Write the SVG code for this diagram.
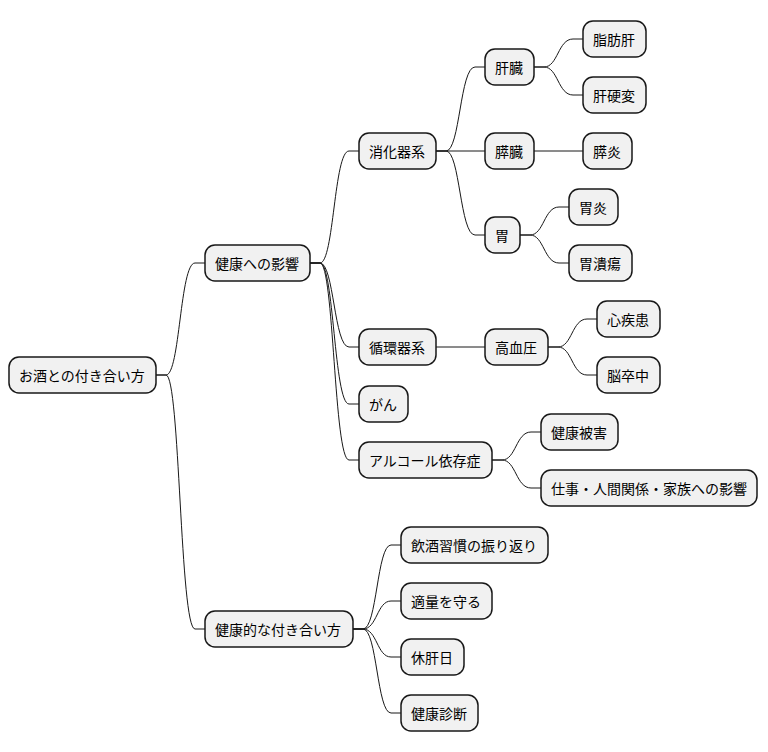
<svg xmlns="http://www.w3.org/2000/svg" width="768" height="752" viewBox="0 0 768 752">
<style>
.n rect{fill:#f1f1f1;stroke:#181818;stroke-width:1.5}
.n text{font-family:"Noto Sans CJK JP","Noto Sans CJK SC",sans-serif;font-size:14px;fill:#000;dominant-baseline:central}
#edges path{fill:none;stroke:#181818;stroke-width:1}
</style>
<rect width="768" height="752" fill="#fff"/>
<g id="edges">
<path d="M156 375 H166 C180 375 180 263 195 263 H205"/>
<path d="M156 375 H166 C180 375 180 629 195 629 H205"/>
<path d="M310 263 H320 C334 263 334 151 349 151 H359"/>
<path d="M310 263 H320 C334 263 334 347 349 347 H359"/>
<path d="M310 263 H320 C334 263 334 404 349 404 H359"/>
<path d="M310 263 H320 C334 263 334 460 349 460 H359"/>
<path d="M436 151 H446 C460 151 460 67 475 67 H485"/>
<path d="M436 151 H485"/>
<path d="M436 151 H446 C460 151 460 235 475 235 H485"/>
<path d="M534 67 H544 C558 67 558 39 573 39 H583"/>
<path d="M534 67 H544 C558 67 558 95 573 95 H583"/>
<path d="M534 151 H583"/>
<path d="M520 235 H530 C544 235 544 207 559 207 H569"/>
<path d="M520 235 H530 C544 235 544 263 559 263 H569"/>
<path d="M436 347 H485"/>
<path d="M548 347 H558 C572 347 572 319 587 319 H597"/>
<path d="M548 347 H558 C572 347 572 375 587 375 H597"/>
<path d="M492 460 H502 C516 460 516 432 531 432 H541"/>
<path d="M492 460 H502 C516 460 516 488 531 488 H541"/>
<path d="M353 629 H363 C377 629 377 545 391 545 H401"/>
<path d="M353 629 H363 C377 629 377 601 391 601 H401"/>
<path d="M353 629 H363 C377 629 377 657 391 657 H401"/>
<path d="M353 629 H363 C377 629 377 713 391 713 H401"/>
</g>
<g id="root" class="n"><rect x="9" y="357" width="147" height="36" rx="10"/><text x="19" y="375">お酒との付き合い方</text></g>
<g id="eikyo" class="n"><rect x="205" y="245" width="105" height="36" rx="10"/><text x="215" y="263">健康への影響</text></g>
<g id="tsukiai" class="n"><rect x="205" y="611" width="148" height="36" rx="10"/><text x="215" y="629">健康的な付き合い方</text></g>
<g id="shoka" class="n"><rect x="359" y="133" width="77" height="36" rx="10"/><text x="369" y="151">消化器系</text></g>
<g id="junkan" class="n"><rect x="359" y="329" width="77" height="36" rx="10"/><text x="369" y="347">循環器系</text></g>
<g id="gan" class="n"><rect x="359" y="386" width="49" height="36" rx="10"/><text x="369" y="404">がん</text></g>
<g id="alc" class="n"><rect x="359" y="442" width="133" height="36" rx="10"/><text x="369" y="460">アルコール依存症</text></g>
<g id="kanzo" class="n"><rect x="485" y="49" width="49" height="36" rx="10"/><text x="495" y="67">肝臓</text></g>
<g id="suizo" class="n"><rect x="485" y="133" width="49" height="36" rx="10"/><text x="495" y="151">膵臓</text></g>
<g id="i" class="n"><rect x="485" y="217" width="35" height="36" rx="10"/><text x="495" y="235">胃</text></g>
<g id="shibokan" class="n"><rect x="583" y="21" width="63" height="36" rx="10"/><text x="593" y="39">脂肪肝</text></g>
<g id="kankohen" class="n"><rect x="583" y="77" width="63" height="36" rx="10"/><text x="593" y="95">肝硬変</text></g>
<g id="suien" class="n"><rect x="583" y="133" width="49" height="36" rx="10"/><text x="593" y="151">膵炎</text></g>
<g id="ien" class="n"><rect x="569" y="189" width="49" height="36" rx="10"/><text x="579" y="207">胃炎</text></g>
<g id="ikaiyo" class="n"><rect x="569" y="245" width="63" height="36" rx="10"/><text x="579" y="263">胃潰瘍</text></g>
<g id="koketsuatsu" class="n"><rect x="485" y="329" width="63" height="36" rx="10"/><text x="495" y="347">高血圧</text></g>
<g id="shinshikkan" class="n"><rect x="597" y="301" width="63" height="36" rx="10"/><text x="607" y="319">心疾患</text></g>
<g id="nosotchu" class="n"><rect x="597" y="357" width="63" height="36" rx="10"/><text x="607" y="375">脳卒中</text></g>
<g id="higai" class="n"><rect x="541" y="414" width="77" height="36" rx="10"/><text x="551" y="432">健康被害</text></g>
<g id="shigoto" class="n"><rect x="541" y="470" width="216" height="36" rx="10"/><text x="551" y="488">仕事・人間関係・家族への影響</text></g>
<g id="furikaeri" class="n"><rect x="401" y="527" width="147" height="36" rx="10"/><text x="411" y="545">飲酒習慣の振り返り</text></g>
<g id="tekiryo" class="n"><rect x="401" y="583" width="91" height="36" rx="10"/><text x="411" y="601">適量を守る</text></g>
<g id="kyukanbi" class="n"><rect x="401" y="639" width="63" height="36" rx="10"/><text x="411" y="657">休肝日</text></g>
<g id="shindan" class="n"><rect x="401" y="695" width="77" height="36" rx="10"/><text x="411" y="713">健康診断</text></g>
</svg>
